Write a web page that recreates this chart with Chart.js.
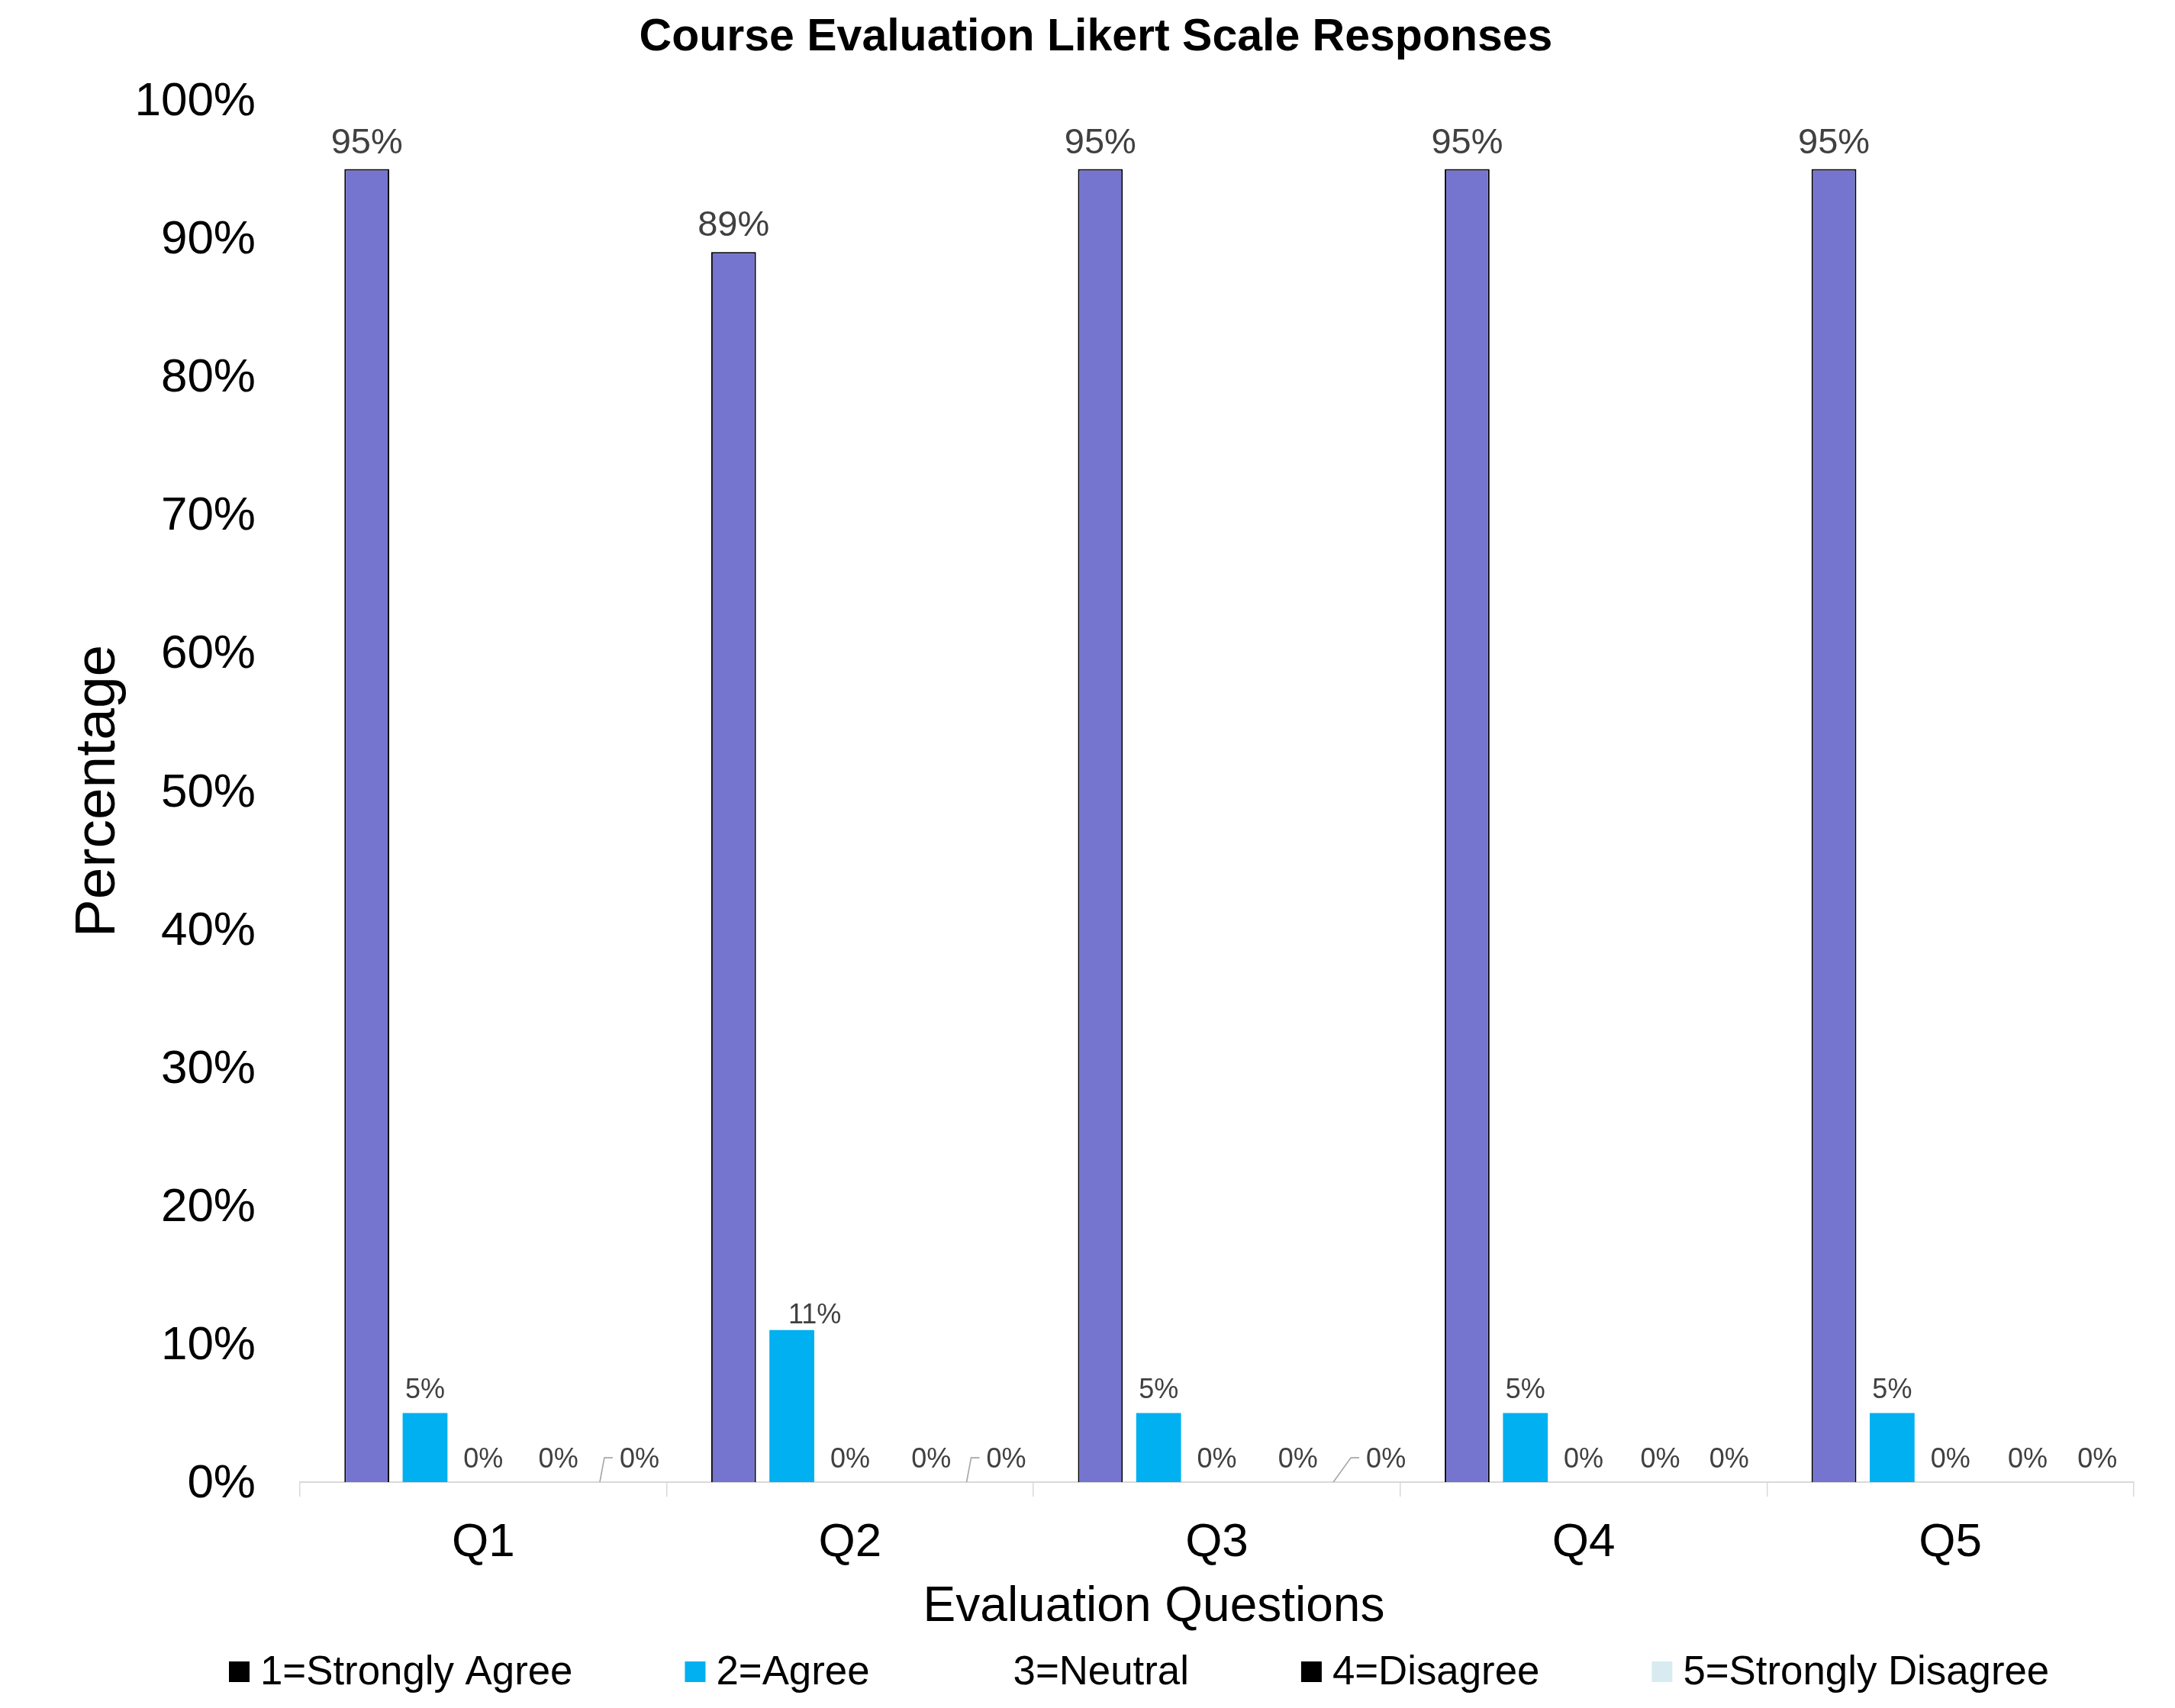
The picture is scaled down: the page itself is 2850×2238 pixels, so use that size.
<!DOCTYPE html>
<html>
<head>
<meta charset="utf-8">
<script src="https://cdn.jsdelivr.net/npm/chart.js@4/dist/chart.umd.min.js"></script>
<style>
  html, body { margin: 0; padding: 0; background: #ffffff; }
  #c { display: block; }
</style>
</head>
<body>
<canvas id="c" width="2850" height="2238"></canvas>
<script>
// ---------- DATA ----------
const categories = ['Q1', 'Q2', 'Q3', 'Q4', 'Q5'];
const seriesNames = ['1=Strongly Agree', '2=Agree', '3=Neutral', '4=Disagree', '5=Strongly Disagree'];
const stronglyAgree = [95, 89, 95, 95, 95];
const agree = [5, 11, 5, 5, 5];
const neutral = [0, 0, 0, 0, 0];
const disagree = [0, 0, 0, 0, 0];
const stronglyDisagree = [0, 0, 0, 0, 0];
const yTickValues = [0, 10, 20, 30, 40, 50, 60, 70, 80, 90, 100];
const chartTitle = 'Course Evaluation Likert Scale Responses';
const xTitle = 'Evaluation Questions';
const yTitle = 'Percentage';

// ---------- STYLE ----------
const FONT = '"Liberation Sans", Arial, Helvetica, sans-serif';
const barFill = ['#7575D0', '#00B0F0', '#FFFFFF', '#000000', '#D7EBF0'];
const barBorder = ['#000000', '#00B0F0', '#FFFFFF', '#000000', '#D7EBF0'];
const barBorderWidth = [2, 0, 0, 0, 0];
const legendSwatch = ['#000000', '#00B0F0', '#FFFFFF', '#000000', '#D7EBF0'];
// manual label placement nudges (px), per series x category
const labelDx = [[0,0,0,0,0],[0,30,0,0,0],[0,0,0,0,0],[22,30,30,24,25],[52,52,69,38,40]];
const labelDy = [[0,0,0,0,0],[0,10,0,0,0],[0,0,0,0,0],[0,0,0,0,0],[0,0,0,0,0]];
const labelLeader = [[0,0,0,0,0],[0,0,0,0,0],[0,0,0,0,0],[0,0,0,0,0],[1,1,1,0,0]];

const seriesValues = [stronglyAgree, agree, neutral, disagree, stronglyDisagree];

const datasets = seriesNames.map((name, i) => ({
  label: name,
  data: seriesValues[i],
  backgroundColor: barFill[i],
  borderColor: barBorder[i],
  borderWidth: barBorderWidth[i],
  borderSkipped: 'bottom',
  categoryPercentage: 0.794,
  barPercentage: 0.77
}));

const dataLabelPlugin = {
  id: 'dataLabels',
  afterDatasetsDraw(chart) {
    const ctx = chart.ctx;
    const area = chart.chartArea;
    ctx.save();
    chart.data.datasets.forEach((ds, i) => {
      const meta = chart.getDatasetMeta(i);
      meta.data.forEach((el, j) => {
        const v = ds.data[j];
        const text = v + '%';
        const size = i === 0 ? 47 : 36;
        const gap = i === 0 ? 21 : 19;
        ctx.font = size + 'px ' + FONT;
        ctx.fillStyle = '#404040';
        ctx.textAlign = 'center';
        ctx.textBaseline = 'alphabetic';
        const cx = el.x + labelDx[i][j];
        const by = el.y - gap + labelDy[i][j];
        ctx.fillText(text, cx, by);
        if (labelLeader[i][j]) {
          const w = ctx.measureText(text).width;
          const left = cx - w / 2;
          const midY = by - 0.358 * size;
          ctx.strokeStyle = '#A6A6A6';
          ctx.lineWidth = 1.6;
          ctx.beginPath();
          ctx.moveTo(el.x, area.bottom);
          ctx.lineTo(left - 20, midY);
          ctx.lineTo(left - 9, midY);
          ctx.stroke();
        }
      });
    });
    ctx.restore();
  }
};

const textPlugin = {
  id: 'texts',
  afterDraw(chart) {
    const ctx = chart.ctx;
    ctx.save();
    ctx.textBaseline = 'alphabetic';
    ctx.fillStyle = '#000000';
    // chart title
    ctx.textAlign = 'center';
    ctx.font = 'bold 59px ' + FONT;
    ctx.fillText(chartTitle, 1436, 66);
    // x axis title
    ctx.font = '64px ' + FONT;
    ctx.fillText(xTitle, 1512, 2124);
    // legend
    const size = 52.8;
    ctx.font = size + 'px ' + FONT;
    ctx.textAlign = 'left';
    const box = 27, boxGap = 14, itemGap = 147;
    let x = 300;
    const boxTop = 2177, baseline = 2207;
    chart.data.datasets.forEach((ds, i) => {
      ctx.fillStyle = legendSwatch[i];
      ctx.fillRect(x, boxTop, box, box);
      ctx.fillStyle = '#000000';
      ctx.fillText(ds.label, x + box + boxGap, baseline);
      x += box + boxGap + ctx.measureText(ds.label).width + itemGap;
    });
    ctx.restore();
  }
};

new Chart(document.getElementById('c'), {
  type: 'bar',
  data: { labels: categories, datasets },
  plugins: [dataLabelPlugin, textPlugin],
  options: {
    responsive: false,
    animation: false,
    devicePixelRatio: 1,
    layout: { padding: { top: 131, right: 54, bottom: 96, left: 0 } },
    plugins: {
      legend: { display: false },
      tooltip: { enabled: false },
      title: { display: false }
    },
    scales: {
      x: {
        afterFit(scale) { scale.height = 200; },
        grid: { display: true, drawOnChartArea: false, drawTicks: true, tickLength: 19, color: '#D9D9D9', lineWidth: 1.5, offset: true },
        border: { display: true, color: '#D9D9D9', width: 2 },
        ticks: { color: '#000000', font: { family: FONT, size: 62 }, padding: 24, maxRotation: 0 },
        title: { display: false }
      },
      y: {
        min: 0, max: 100,
        afterFit(scale) { scale.width = 393; },
        afterBuildTicks(scale) { scale.ticks = yTickValues.map(v => ({ value: v })); },
        grid: { display: false, drawTicks: false },
        border: { display: false },
        ticks: { color: '#000000', font: { family: FONT, size: 62 }, padding: 58, labelOffset: 3, callback: v => v + '%' },
        title: { display: true, text: yTitle, color: '#000000', font: { family: FONT, size: 75, lineHeight: 1.2 }, padding: { top: 84, bottom: 0 } }
      }
    }
  }
});
</script>
</body>
</html>
